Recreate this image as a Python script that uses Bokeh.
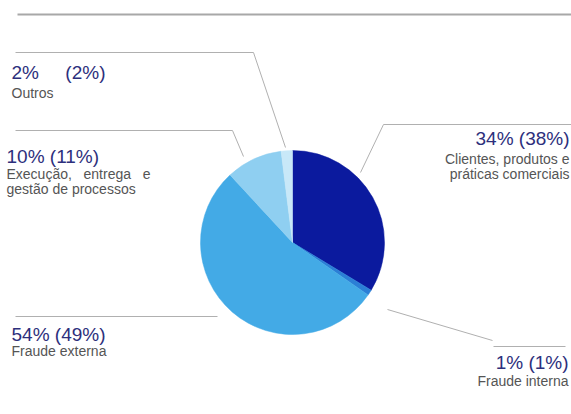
import numpy as np
from bokeh.plotting import figure
from bokeh.models import Range1d, ColumnDataSource
from bokeh.core.properties import value
from bokeh.embed import file_html
from bokeh.resources import INLINE

# ---- data ----
categories = ["Clientes, produtos e práticas comerciais", "Fraude interna",
              "Fraude externa", "Execução, entrega e gestão de processos", "Outros"]
share_now = [34, 1, 54, 10, 2]
share_prev = [38, 1, 49, 11, 2]
colors = ["#0b1a9e", "#2b7fd6", "#43aae6", "#8fcff1", "#c8e8f8"]

W, H = 571, 414

def Y(py):
    return H - py

p = figure(width=W, height=H, output_backend="svg", toolbar_location=None,
           x_range=Range1d(0, W), y_range=Range1d(0, H),
           min_border=0, outline_line_color=None)
p.axis.visible = False
p.grid.visible = False
p.background_fill_color = "white"
p.border_fill_color = "white"

# ---- pie ----
vals = np.array(share_now, dtype=float)
frac = vals / vals.sum() * 2 * np.pi
ends = np.cumsum(frac)
starts = ends - frac
src = ColumnDataSource(dict(
    start=np.pi / 2 - starts, end=np.pi / 2 - ends, color=colors, cat=categories))
cx, cy, r = 292, Y(242), 92
p.wedge(x=cx, y=cy, radius=r, start_angle="start", end_angle="end",
        direction="clock", fill_color="color", line_color="color", line_width=0.5,
        source=src)

# ---- decorative lines ----
lc = "#b0b0b0"
p.line([17, 571], [Y(14), Y(14)], line_color="#a8a8a8", line_width=2)
# Outros
p.line([15, 253, 285], [Y(52), Y(52), Y(147)], line_color=lc, line_width=1)
# Execução
p.line([15, 232, 243], [Y(130), Y(130), Y(156)], line_color=lc, line_width=1)
# Clientes
p.line([571, 383, 360], [Y(124), Y(124), Y(172)], line_color=lc, line_width=1)
# Fraude interna
p.line([387, 492], [Y(309), Y(340)], line_color=lc, line_width=1)
p.line([493, 565], [Y(346), Y(346)], line_color=lc, line_width=1)
# Fraude externa
p.line([15, 217], [Y(316), Y(316)], line_color=lc, line_width=1)

# ---- labels ----
big = "#2d2f7c"
small = "#555555"
font = value("Liberation Sans")
NB = "\u00a0"

def lab(i, x, y_big, y_small_list, align, lines, gap=False):
    sep = (NB * 5) if gap else " "
    head = f"{share_now[i]}%{sep}({share_prev[i]}%)"
    p.text(x=[x], y=[Y(y_big)], text=[head], text_font=font, text_font_size="19px",
           text_color=big, text_align=align, text_baseline="alphabetic")
    for yy, t in zip(y_small_list, lines):
        p.text(x=[x], y=[Y(yy)], text=[t], text_font=font, text_font_size="14px",
               text_color=small, text_align=align, text_baseline="alphabetic")

lab(4, 11, 72, [92], "left", ["Outros"], gap=True)
lab(3, 6, 156, [173, 188], "left",
    [f"Execução,{NB*3}entrega{NB*3}e", "gestão de processos"])
lab(0, 569, 138, [158, 173], "right", ["Clientes, produtos e", "práticas comerciais"])
lab(1, 568, 362, [380], "right", ["Fraude interna"])
lab(2, 11, 334, [350], "left", ["Fraude externa"])

open("out.html", "w").write(file_html(p, INLINE))
